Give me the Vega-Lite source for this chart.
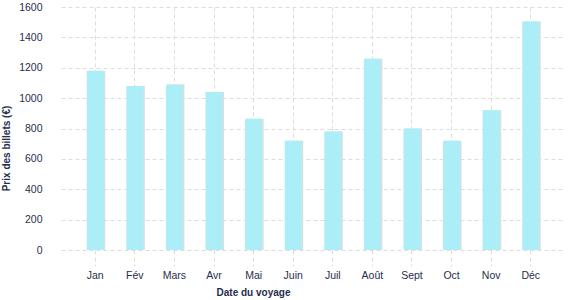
{
  "$schema": "https://vega.github.io/schema/vega-lite/v6.json",
  "width": 504,
  "height": 243,
  "autosize": "none",
  "padding": {"left": 61, "top": 7, "right": 12, "bottom": 50},
  "background": "white",
  "config": {
    "view": {"stroke": null},
    "font": "Liberation Sans"
  },
  "data": {
    "values": [
      {"mois": "Jan", "prix": 1180},
      {"mois": "Fév", "prix": 1080},
      {"mois": "Mars", "prix": 1090},
      {"mois": "Avr", "prix": 1040},
      {"mois": "Mai", "prix": 865},
      {"mois": "Juin", "prix": 720},
      {"mois": "Juil", "prix": 780},
      {"mois": "Août", "prix": 1260},
      {"mois": "Sept", "prix": 800},
      {"mois": "Oct", "prix": 720},
      {"mois": "Nov", "prix": 920},
      {"mois": "Déc", "prix": 1505}
    ]
  },
  "encoding": {
    "x": {
      "field": "mois",
      "type": "nominal",
      "sort": null,
      "scale": {"paddingInner": 0.57, "paddingOuter": 0.65},
      "axis": {
        "title": "Date du voyage",
        "labelAngle": 0,
        "grid": true,
        "gridColor": "#dddddd",
        "gridDash": [4, 3],
        "gridWidth": 1,
        "domain": false,
        "ticks": true,
        "tickSize": 16,
        "tickColor": "#dddddd",
        "tickDash": [4, 3],
        "labelPadding": 4,
        "labelFontSize": 10.5,
        "labelColor": "#1f2e4d",
        "titleFontSize": 10,
        "titleFontWeight": "bold",
        "titleColor": "#1f2e4d",
        "titleX": 192,
        "titleY": 45,
        "titleBaseline": "alphabetic"
      }
    },
    "y": {
      "field": "prix",
      "type": "quantitative",
      "scale": {"domain": [0, 1600], "nice": false},
      "axis": {
        "title": "Prix des billets (€)",
        "values": [0, 200, 400, 600, 800, 1000, 1200, 1400, 1600],
        "format": "d",
        "grid": true,
        "gridColor": "#dddddd",
        "gridDash": [4, 3],
        "domain": false,
        "ticks": false,
        "labelPadding": 19,
        "labelFontSize": 10.5,
        "labelColor": "#1f2e4d",
        "titleFontSize": 10,
        "titleFontWeight": "bold",
        "titleColor": "#1f2e4d",
        "titleX": -50,
        "titleY": 141
      }
    }
  },
  "layer": [
    {"mark": {"type": "bar", "color": "#dddddd", "xOffset": 1.5, "yOffset": 0}},
    {"mark": {"type": "bar", "color": "#abeef8"}}
  ]
}
